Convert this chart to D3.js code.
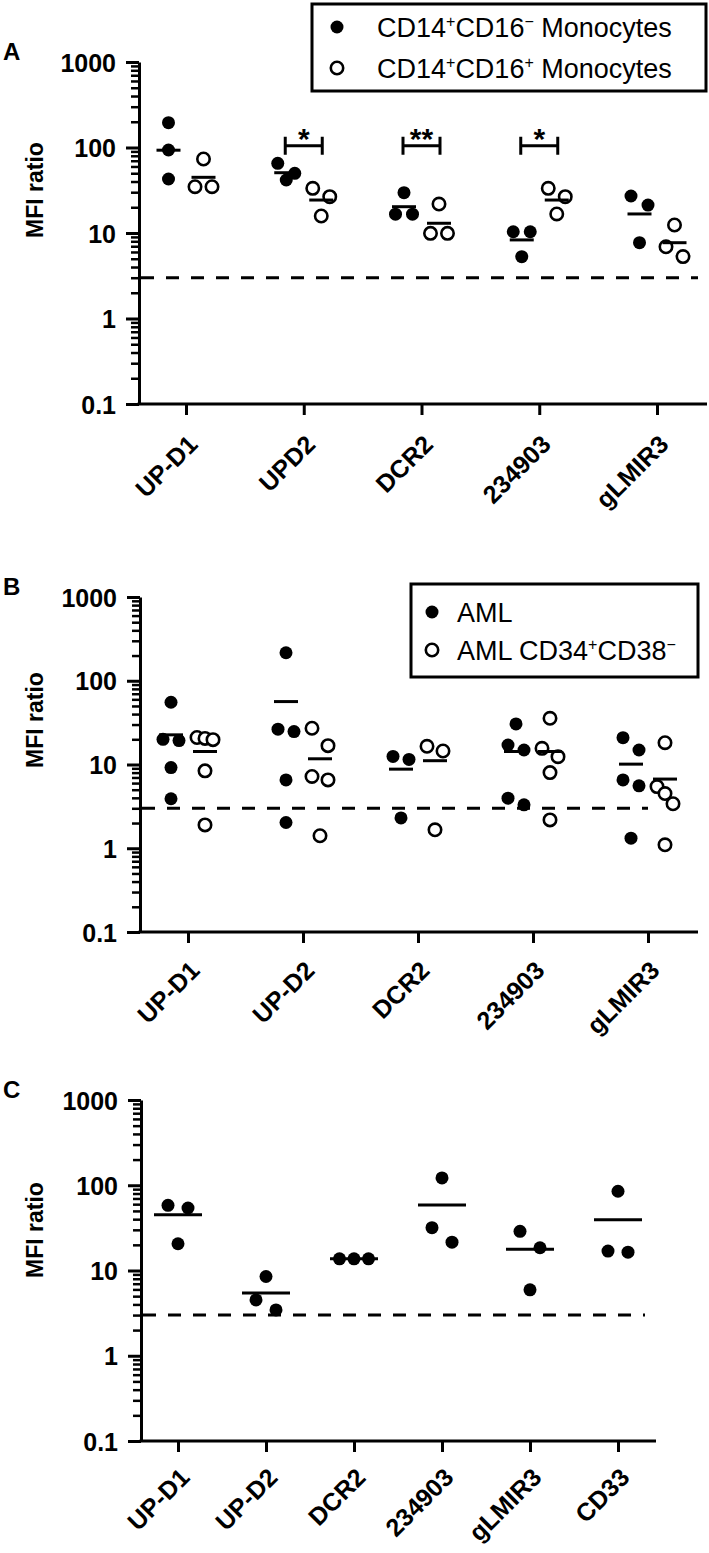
<!DOCTYPE html>
<html><head><meta charset="utf-8">
<script src="https://cdn.jsdelivr.net/npm/d3@7"></script>
<style>body{margin:0;background:#fff;position:relative} svg{display:block}
.hl{position:absolute;font-family:'Liberation Sans',Arial,sans-serif;font-weight:bold;font-size:25px;color:#000;white-space:nowrap;transform-origin:100% 100%;transform:rotate(-45deg);line-height:1}
</style>
</head><body>
<svg id="chart" width="709" height="1553"></svg>
<script>
// ---------- DATA ----------
const yTickValues = [0.1, 1, 10, 100, 1000];
const cutoffValue = 3;
const bracketValue = 105;

// Panel A
const catsA = ["UP-D1", "UPD2", "DCR2", "234903", "gLMIR3"];
const monoNeg = [[195, 93.5, 42.8], [65.3, 49.9, 41.7], [29.6, 16.6, 16.6], [10.35, 10.35, 5.28], [27.1, 21.2, 7.7]];
const monoNegMean = [93, 50.7, 20.3, 8.3, 16.7];
const monoPos = [[73.4, 34.8, 34.8], [33.3, 26.6, 15.8], [21.8, 9.9, 9.9], [33.3, 26.6, 16.7], [12.4, 6.9, 5.3]];
const monoPosMean = [44.8, 24.3, 13.0, 24.3, 7.7];
const sigA = [{cat: "UPD2", label: "*"}, {cat: "DCR2", label: "**"}, {cat: "234903", label: "*"}];

// Panel B
const catsB = ["UP-D1", "UP-D2", "DCR2", "234903", "gLMIR3"];
const aml = [[55.4, 20.0, 19.3, 9.2, 3.9], [216, 26.4, 24.7, 6.55, 2.03], [12.5, 11.5, 2.3], [30.5, 17.1, 14.9, 3.96, 3.3], [20.9, 14.9, 6.55, 5.56, 1.32]];
const amlMean = [22.6, 56.4, 8.8, 14.3, 10.1];
const amlStem = [[21, 20.5, 19.8, 8.4, 1.9], [27.1, 16.8, 7.2, 6.55, 1.41], [16.5, 14.5, 1.66], [35.6, 15.6, 12.4, 8.0, 2.18], [18.2, 5.45, 4.5, 3.4, 1.1]];
const amlStemMean = [14.3, 11.7, 11.1, 14.3, 6.7];

// Panel C
const catsC = ["UP-D1", "UP-D2", "DCR2", "234903", "gLMIR3", "CD33"];
const cellsC = [[58.2, 54.1, 20.6], [8.5, 4.52, 3.45], [13.7, 13.7, 13.7], [122, 31.8, 21.5], [28.8, 18.5, 5.93], [85, 16.9, 16.4]];
const cellsCMean = [45.2, 5.46, 13.7, 58.7, 17.7, 39.5];

// ---------- LAYOUT ----------
const FONT = "'Liberation Sans', Arial, Helvetica, sans-serif";
const svg = d3.select("#chart");
const defs = svg.append("defs");
let pathId = 0;

function arrange(vals, y, thr, maxSp, maxW) {
  const idx = vals.map((v, i) => i).sort((a, b) => vals[b] - vals[a]);
  const rows = [];
  idx.forEach(i => {
    const r = rows[rows.length - 1];
    if (r && Math.abs(y(vals[i]) - y(vals[r[0]])) < thr) r.push(i);
    else rows.push([i]);
  });
  const off = new Array(vals.length).fill(0);
  rows.forEach(r => {
    const n = r.length;
    const sp = n > 1 ? Math.min(maxSp, maxW / (n - 1)) : 0;
    r.forEach((i, k) => off[i] = (k - (n - 1) / 2) * sp);
  });
  return off;
}

function drawPanel(cfg, cats, series) {
  const g = svg.append("g");
  const y = d3.scaleLog().domain([0.1, 1000]).range([cfg.bottom, cfg.top]);
  const x = d3.scalePoint().domain(cats).range(cfg.xRange);

  const minor = [];
  for (let e = -1; e < 3; e++) for (let m = 2; m <= 9; m++) minor.push(m * Math.pow(10, e));
  g.append("g").attr("transform", `translate(${cfg.axisX},0)`)
    .call(d3.axisLeft(y).tickValues(minor).tickSize(8).tickSizeOuter(0).tickFormat(""))
    .call(s => s.select(".domain").remove())
    .call(s => s.selectAll("line").attr("stroke", "#000").attr("stroke-width", 2.5));

  g.append("g").attr("transform", `translate(${cfg.axisX},0)`)
    .call(d3.axisLeft(y).tickValues(yTickValues).tickSize(13).tickSizeOuter(0).tickPadding(10).tickFormat(d => String(d)))
    .call(s => s.select(".domain").attr("stroke", "#000").attr("stroke-width", 3))
    .call(s => s.selectAll("line").attr("stroke", "#000").attr("stroke-width", 3))
    .call(s => s.selectAll("text").attr("font-family", FONT).attr("font-weight", "bold")
      .attr("font-size", 25).attr("fill", "#000").attr("dy", "0.36em"));

  const xa = g.append("g").attr("transform", `translate(0,${cfg.bottom})`)
    .call(d3.axisBottom(x).tickSize(11).tickSizeOuter(0));
  xa.select(".domain").remove();
  xa.selectAll(".tick line").attr("stroke", "#000").attr("stroke-width", 3);
  xa.selectAll(".tick text").remove();

  // rotated category labels: text laid along a 45-degree path ending at the anchor
  cats.forEach(c => {
    const ex = x(c) + 13, ey = cfg.bottom + cfg.labelDy, L = 200;
    const id = "lp" + (pathId++);
    defs.append("path").attr("id", id)
      .attr("d", `M${ex - L * Math.SQRT1_2},${ey + L * Math.SQRT1_2}L${ex},${ey}`);
    g.append("text").attr("font-family", FONT).attr("font-weight", "bold")
      .attr("font-size", 25).attr("fill", "#000").attr("text-anchor", "end")
      .append("textPath").attr("href", "#" + id).attr("startOffset", "100%").text(c);
  });

  g.append("line").attr("x1", cfg.axisX - 1.5).attr("x2", cfg.axisEnd)
    .attr("y1", cfg.bottom).attr("y2", cfg.bottom).attr("stroke", "#000").attr("stroke-width", 3);

  g.append("line").attr("x1", cfg.axisX + 2).attr("x2", cfg.dashEnd)
    .attr("y1", y(cutoffValue)).attr("y2", y(cutoffValue))
    .attr("stroke", "#000").attr("stroke-width", 3).attr("stroke-dasharray", "13,12");

  series.forEach(s => {
    cats.forEach((c, ci) => {
      const vals = s.values[ci];
      const off = arrange(vals, y, cfg.rowThr, cfg.maxSp, cfg.maxW);
      const cx0 = x(c) + s.side * cfg.offset;
      g.selectAll(null).data(vals).enter().append("circle")
        .attr("cx", (d, i) => cx0 + off[i]).attr("cy", d => y(d))
        .attr("r", s.filled ? 6.5 : 6.2)
        .attr("fill", s.filled ? "#000" : "#fff")
        .attr("stroke", "#000").attr("stroke-width", s.filled ? 0 : 2.6);
    });
  });
  series.forEach(s => {
    g.selectAll(null).data(cats).enter().append("line")
      .attr("x1", c => x(c) + s.side * cfg.offset - cfg.meanW / 2)
      .attr("x2", c => x(c) + s.side * cfg.offset + cfg.meanW / 2)
      .attr("y1", (c, i) => y(s.means[i])).attr("y2", (c, i) => y(s.means[i]))
      .attr("stroke", "#000").attr("stroke-width", 3);
  });

  g.append("text").attr("transform", `translate(43,${cfg.yLabelY}) rotate(-90)`)
    .attr("text-anchor", "middle").attr("font-family", FONT).attr("font-weight", "bold")
    .attr("font-size", 23).text("MFI ratio");
  g.append("text").attr("x", 3).attr("y", cfg.letterY).attr("font-family", FONT)
    .attr("font-weight", "bold").attr("font-size", 24).text(cfg.letter);

  return {g, x, y};
}

function legend(cfg, items) {
  const g = svg.append("g");
  g.append("rect").attr("x", cfg.x0).attr("y", cfg.y0).attr("width", cfg.x1 - cfg.x0)
    .attr("height", cfg.y1 - cfg.y0).attr("fill", "#fff").attr("stroke", "#000").attr("stroke-width", 3);
  items.forEach((it, i) => {
    const cy = cfg.rows[i];
    g.append("circle").attr("cx", cfg.dotX).attr("cy", cy).attr("r", it.filled ? 6.5 : 6.2)
      .attr("fill", it.filled ? "#000" : "#fff").attr("stroke", "#000").attr("stroke-width", it.filled ? 0 : 2.6);
    const t = g.append("text").attr("x", cfg.textX).attr("y", cy + 9.5).attr("font-family", FONT)
      .attr("font-size", 27).attr("fill", "#000");
    let pending = 0;
    it.parts.forEach(p => {
      if (p.sup) {
        t.append("tspan").attr("dy", -10 + pending).attr("font-size", 16).text(p.sup);
        pending = 10;
      } else {
        t.append("tspan").attr("dy", pending).text(p.t);
        pending = 0;
      }
    });
  });
}

const A = drawPanel({top: 62, bottom: 404, axisX: 139, xRange: [186, 657], axisEnd: 707, dashEnd: 698,
  offset: 17.5, meanW: 24, rowThr: 10, maxSp: 17, maxW: 17, labelDy: 42, yLabelY: 190, letter: "A", letterY: 60},
  catsA, [{values: monoNeg, means: monoNegMean, filled: true, side: -1},
          {values: monoPos, means: monoPosMean, filled: false, side: 1}]);
sigA.forEach(s => {
  const cx = A.x(s.cat), yy = A.y(bracketValue), hw = 18.5;
  const p = d3.path();
  p.moveTo(cx - hw, yy - 9); p.lineTo(cx - hw, yy + 9);
  p.moveTo(cx - hw, yy); p.lineTo(cx + hw, yy);
  p.moveTo(cx + hw, yy - 9); p.lineTo(cx + hw, yy + 9);
  A.g.append("path").attr("d", p.toString()).attr("stroke", "#000").attr("stroke-width", 3).attr("fill", "none");
  A.g.append("text").attr("x", cx).attr("y", yy + 3).attr("text-anchor", "middle")
    .attr("font-family", FONT).attr("font-weight", "bold").attr("font-size", 30).text(s.label);
});
legend({x0: 312, y0: 4, x1: 706, y1: 91, dotX: 337, textX: 377, rows: [27, 68]}, [
  {filled: true, parts: [{t: "CD14"}, {sup: "+"}, {t: "CD16"}, {sup: "\u2212"}, {t: " Monocytes"}]},
  {filled: false, parts: [{t: "CD14"}, {sup: "+"}, {t: "CD16"}, {sup: "+"}, {t: " Monocytes"}]}]);

drawPanel({top: 597, bottom: 932, axisX: 140, xRange: [188, 648], axisEnd: 698, dashEnd: 648,
  offset: 17, meanW: 24, rowThr: 19, maxSp: 16, maxW: 16, labelDy: 40, yLabelY: 720, letter: "B", letterY: 595},
  catsB, [{values: aml, means: amlMean, filled: true, side: -1},
          {values: amlStem, means: amlStemMean, filled: false, side: 1}]);
legend({x0: 411, y0: 584, x1: 698, y1: 677, dotX: 432, textX: 457, rows: [612, 650]}, [
  {filled: true, parts: [{t: "AML"}]},
  {filled: false, parts: [{t: "AML CD34"}, {sup: "+"}, {t: "CD38"}, {sup: "\u2212"}]}]);

drawPanel({top: 1100, bottom: 1441, axisX: 141, xRange: [178, 618], axisEnd: 656, dashEnd: 645,
  offset: 0, meanW: 48, rowThr: 17, maxSp: 20, maxW: 29, labelDy: 38, yLabelY: 1230, letter: "C", letterY: 1098},
  catsC, [{values: cellsC, means: cellsCMean, filled: true, side: 0}]);
</script>
</body></html>
